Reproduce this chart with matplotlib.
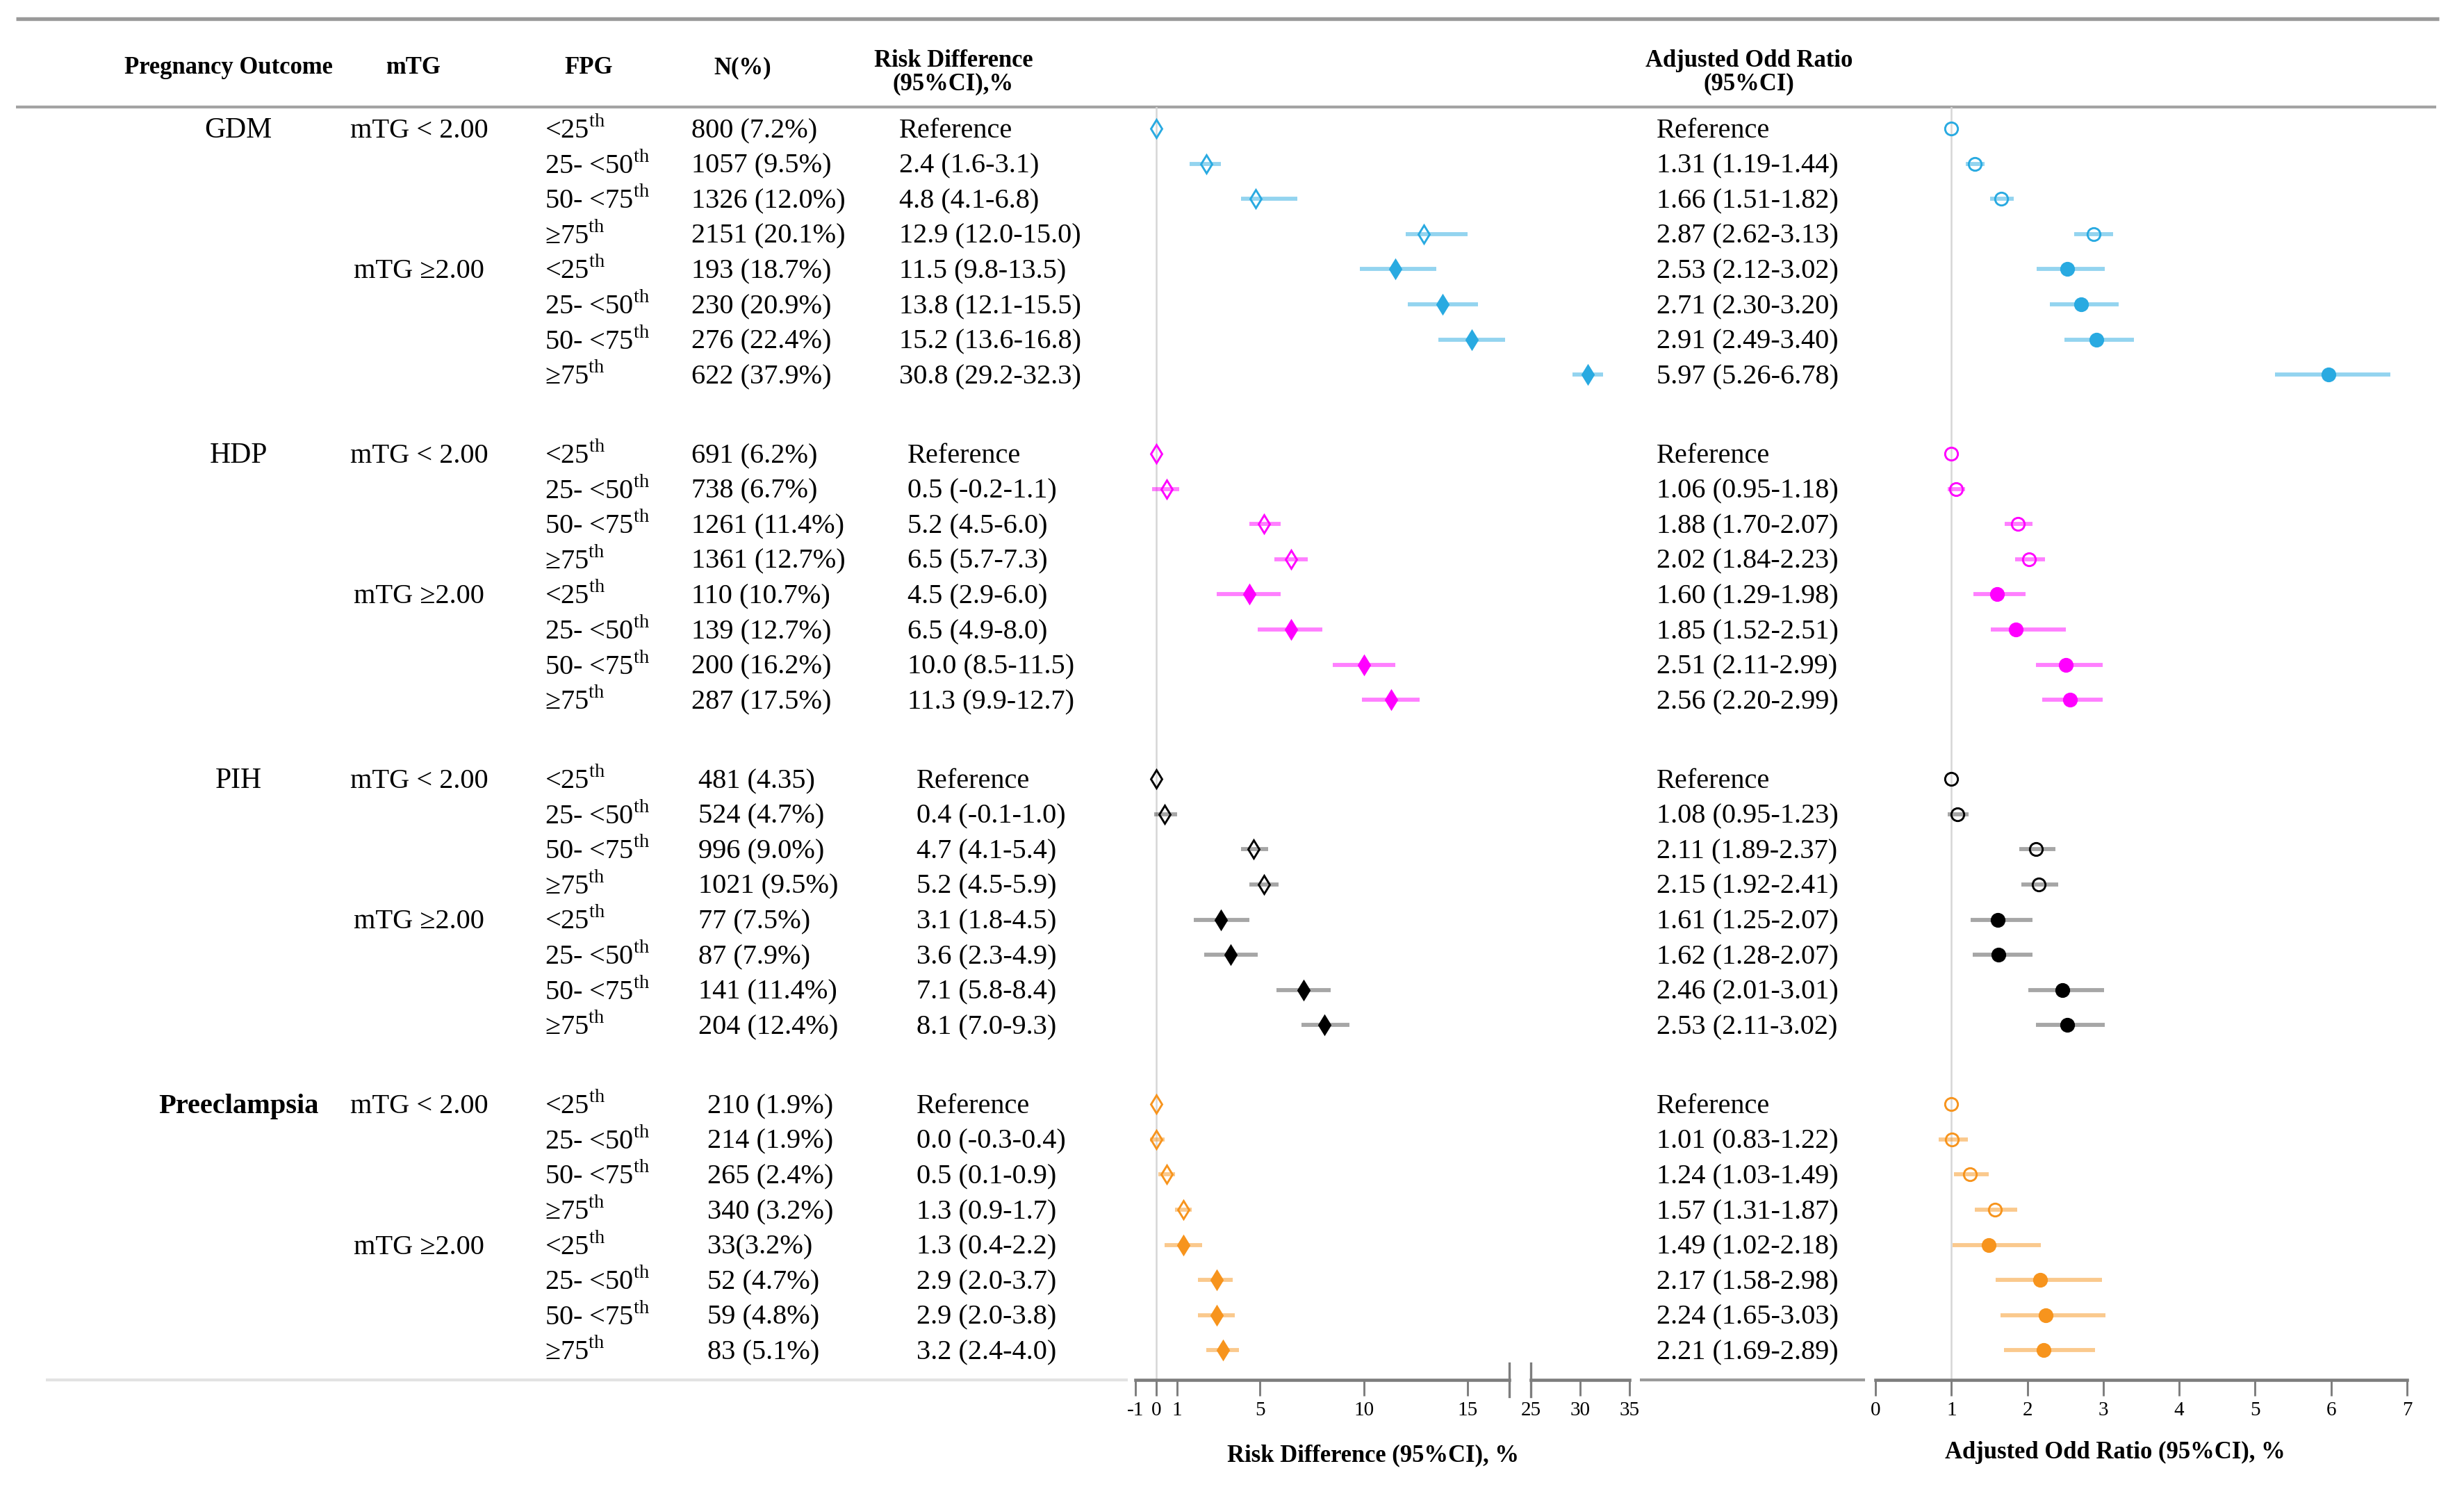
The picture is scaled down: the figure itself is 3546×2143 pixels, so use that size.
import numpy as np
import matplotlib
matplotlib.use("Agg")
import matplotlib.pyplot as plt

W, H = 3546, 2143
DPI = 300

plt.rcParams['font.family'] = ['Liberation Serif', 'DejaVu Serif']
plt.rcParams['mathtext.fontset'] = 'custom'
plt.rcParams['mathtext.rm'] = 'Liberation Serif'
plt.rcParams['axes.unicode_minus'] = False

outcomes = ["GDM", "HDP", "PIH", "Preeclampsia"]
mtg_labels = ["mTG < 2.00", "mTG \u22652.00"]
fpg_labels = [r"<25$^{\rm th}$", r"25- <50$^{\rm th}$", r"50- <75$^{\rm th}$", "\u226575$^{\\rm th}$"] * 2

n_labels = [
    ["800 (7.2%)", "1057 (9.5%)", "1326 (12.0%)", "2151 (20.1%)",
     "193 (18.7%)", "230 (20.9%)", "276 (22.4%)", "622 (37.9%)"],
    ["691 (6.2%)", "738 (6.7%)", "1261 (11.4%)", "1361 (12.7%)",
     "110 (10.7%)", "139 (12.7%)", "200 (16.2%)", "287 (17.5%)"],
    ["481 (4.35)", "524 (4.7%)", "996 (9.0%)", "1021 (9.5%)",
     "77 (7.5%)", "87 (7.9%)", "141 (11.4%)", "204 (12.4%)"],
    ["210 (1.9%)", "214 (1.9%)", "265 (2.4%)", "340 (3.2%)",
     "33(3.2%)", "52 (4.7%)", "59 (4.8%)", "83 (5.1%)"],
]

NAN = np.nan
rd_est = [
    [0.0, 2.4, 4.8, 12.9, 11.5, 13.8, 15.2, 30.8],
    [0.0, 0.5, 5.2, 6.5, 4.5, 6.5, 10.0, 11.3],
    [0.0, 0.4, 4.7, 5.2, 3.1, 3.6, 7.1, 8.1],
    [0.0, 0.0, 0.5, 1.3, 1.3, 2.9, 2.9, 3.2],
]
rd_lo = [
    [NAN, 1.6, 4.1, 12.0, 9.8, 12.1, 13.6, 29.2],
    [NAN, -0.2, 4.5, 5.7, 2.9, 4.9, 8.5, 9.9],
    [NAN, -0.1, 4.1, 4.5, 1.8, 2.3, 5.8, 7.0],
    [NAN, -0.3, 0.1, 0.9, 0.4, 2.0, 2.0, 2.4],
]
rd_hi = [
    [NAN, 3.1, 6.8, 15.0, 13.5, 15.5, 16.8, 32.3],
    [NAN, 1.1, 6.0, 7.3, 6.0, 8.0, 11.5, 12.7],
    [NAN, 1.0, 5.4, 5.9, 4.5, 4.9, 8.4, 9.3],
    [NAN, 0.4, 0.9, 1.7, 2.2, 3.7, 3.8, 4.0],
]
or_est = [
    [1.0, 1.31, 1.66, 2.87, 2.53, 2.71, 2.91, 5.97],
    [1.0, 1.06, 1.88, 2.02, 1.60, 1.85, 2.51, 2.56],
    [1.0, 1.08, 2.11, 2.15, 1.61, 1.62, 2.46, 2.53],
    [1.0, 1.01, 1.24, 1.57, 1.49, 2.17, 2.24, 2.21],
]
or_lo = [
    [NAN, 1.19, 1.51, 2.62, 2.12, 2.30, 2.49, 5.26],
    [NAN, 0.95, 1.70, 1.84, 1.29, 1.52, 2.11, 2.20],
    [NAN, 0.95, 1.89, 1.92, 1.25, 1.28, 2.01, 2.11],
    [NAN, 0.83, 1.03, 1.31, 1.02, 1.58, 1.65, 1.69],
]
or_hi = [
    [NAN, 1.44, 1.82, 3.13, 3.02, 3.20, 3.40, 6.78],
    [NAN, 1.18, 2.07, 2.23, 1.98, 2.51, 2.99, 2.99],
    [NAN, 1.23, 2.37, 2.41, 2.07, 2.07, 3.01, 3.02],
    [NAN, 1.22, 1.49, 1.87, 2.18, 2.98, 3.03, 2.89],
]

rd_ticks_left = [-1, 0, 1, 5, 10, 15]
rd_ticks_right = [25, 30, 35]
or_ticks = [0, 1, 2, 3, 4, 5, 6, 7]

colors = ["#29aae1", "#ff00ff", "#000000", "#f7941d"]

# ---- layout (pixels of the output image) ----
ROW0 = 185          # y of the first row
ROW_H = 50.6        # row pitch
GROUP_STEP = 9.25   # rows per group incl. gap
AX_TOP, AX_BOT = 154, 1986
BASE = 13           # baseline offset below row centre

n_x = [995, 995, 1005, 1018]
rd_x = [1294, 1306, 1319, 1319]


def row_pos(g, i):
    return g * GROUP_STEP + i


def py(r):
    return ROW0 + ROW_H * r


fig = plt.figure(figsize=(W / DPI, H / DPI), dpi=DPI)

# overlay in pixel coordinates for the table part
ax0 = fig.add_axes([0, 0, 1, 1])
ax0.set_xlim(0, W)
ax0.set_ylim(H, 0)
ax0.axis('off')

# rules
ax0.plot([23, 3510], [27, 27], color="#9a9a9a", lw=1.3, solid_capstyle='butt')
ax0.plot([23, 3506], [154, 154], color="#a3a3a3", lw=1.0, solid_capstyle='butt')
ax0.plot([66, 1623], [1986, 1986], color="#e2e2e2", lw=1.0, solid_capstyle='butt')
ax0.plot([2360, 2684], [1986, 1986], color="#9a9a9a", lw=1.0, solid_capstyle='butt')

# headers
hdr = dict(fontsize=8.3, fontweight='bold', ha='center', va='center', linespacing=1.0)
ax0.text(329, 98, "Pregnancy Outcome", **hdr)
ax0.text(595, 98, "mTG", **hdr)
ax0.text(847, 98, "FPG", **hdr)
ax0.text(1069, 98, "N(%)", **hdr)
ax0.text(1372, 104, "Risk Difference\n(95%CI),%", **hdr)
ax0.text(2517, 104, "Adjusted Odd Ratio\n(95%CI)", **hdr)

body = dict(fontsize=9.7, va='baseline')
for g, name in enumerate(outcomes):
    r0 = row_pos(g, 0)
    if name == "Preeclampsia":
        ax0.text(343, py(r0) + BASE, name, ha='center', fontweight='bold',
                 fontsize=9.7, va='baseline')
    else:
        ax0.text(343, py(r0) + BASE, name, ha='center', fontsize=10, va='baseline')
    ax0.text(603, py(r0) + BASE, mtg_labels[0], ha='center', **body)
    ax0.text(603, py(row_pos(g, 4)) + BASE, mtg_labels[1], ha='center', **body)
    for i in range(8):
        y = py(row_pos(g, i)) + BASE
        ax0.text(784, y, fpg_labels[i], ha='left', **body)
        ax0.text(n_x[g], y, n_labels[g][i], ha='left', **body)
        if i == 0:
            rd_txt = "Reference"
            or_txt = "Reference"
        else:
            rd_txt = f"{rd_est[g][i]:.1f} ({rd_lo[g][i]:.1f}-{rd_hi[g][i]:.1f})"
            or_txt = f"{or_est[g][i]:.2f} ({or_lo[g][i]:.2f}-{or_hi[g][i]:.2f})"
        ax0.text(rd_x[g], y, rd_txt, ha='left', **body)
        ax0.text(2384, y, or_txt, ha='left', **body)

ax0.text(1976, 2095, "Risk Difference (95%CI), %", fontsize=8.3, fontweight='bold',
         ha='center', va='center')
ax0.text(3044, 2090, "Adjusted Odd Ratio (95%CI), %", fontsize=8.3, fontweight='bold',
         ha='center', va='center')


# ---- forest panels ----
def px_axes(x0, x1):
    a = fig.add_axes([x0 / W, 1 - AX_BOT / H, (x1 - x0) / W, (AX_BOT - AX_TOP) / H])
    a.set_ylim((AX_BOT - ROW0) / ROW_H, (AX_TOP - ROW0) / ROW_H)
    a.patch.set_alpha(0)
    for s in ['top', 'left', 'right']:
        a.spines[s].set_visible(False)
    a.spines['bottom'].set_color("#7d7d7d")
    a.spines['bottom'].set_linewidth(1.1)
    a.set_yticks([])
    a.tick_params(axis='x', direction='out', length=5.5, width=0.7, color="#7d7d7d",
                  labelsize=7, pad=2)
    return a


rd_l = px_axes(1634, 2172)
rd_l.set_xlim(-1, 17)
rd_l.set_xticks(rd_ticks_left)
rd_r = px_axes(2203, 2345)
rd_r.set_xlim(25, 35)
rd_r.set_xticks(rd_ticks_right)
or_ax = px_axes(2699, 3464)
or_ax.set_xlim(0, 7)
or_ax.set_xticks(or_ticks)

rd_l.axvline(0, color="#d6d6d6", lw=0.6, zorder=0)
or_ax.axvline(1, color="#d6d6d6", lw=0.6, zorder=0)

# axis break marks
for a, xb in [(rd_l, 1), (rd_r, 0)]:
    a.plot([xb, xb], [-0.013, 0.013], transform=a.transAxes, color="#7d7d7d",
           lw=0.8, clip_on=False)

for g in range(4):
    c = colors[g]
    ci_alpha = 0.35 if g == 2 else 0.5
    for i in range(8):
        y = row_pos(g, i)
        filled = i >= 4
        mfc = c if filled else 'none'
        for a in (rd_l, rd_r):
            if not np.isnan(rd_lo[g][i]):
                a.plot([rd_lo[g][i], rd_hi[g][i]], [y, y], color=c, alpha=ci_alpha,
                       lw=1.4, solid_capstyle='butt', zorder=2)
            a.plot(rd_est[g][i], y, marker='d', ms=4.4, mfc=mfc, mec=c, mew=0.7,
                   linestyle='none', zorder=3)
        if not np.isnan(or_lo[g][i]):
            or_ax.plot([or_lo[g][i], or_hi[g][i]], [y, y], color=c, alpha=ci_alpha,
                       lw=1.4, solid_capstyle='butt', zorder=2)
        or_ax.plot(or_est[g][i], y, marker='o', ms=4.4, mfc=mfc, mec=c, mew=0.7,
                   linestyle='none', zorder=3)

fig.savefig("out.png", dpi=DPI)
